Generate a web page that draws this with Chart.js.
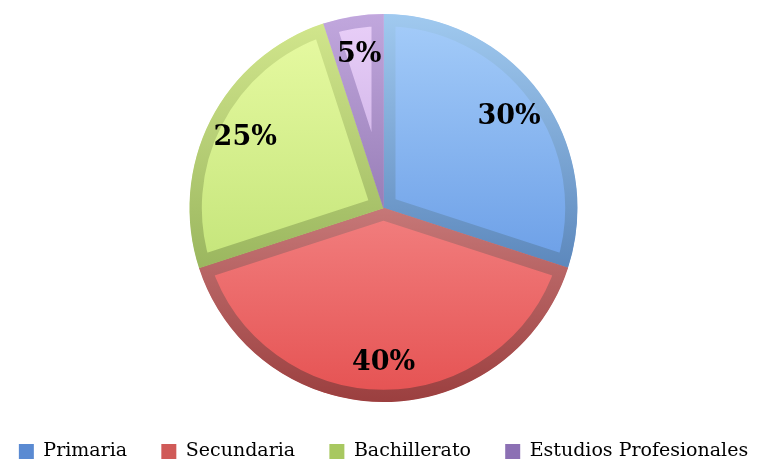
<!DOCTYPE html>
<html><head><meta charset="utf-8">
<script src="https://cdn.jsdelivr.net/npm/chart.js@4/dist/chart.umd.min.js"></script>
<style>html,body{margin:0;padding:0;background:#fff}#wrap{width:760px;height:462px}</style>
</head><body><div id="wrap"><canvas id="c" width="760" height="462"></canvas></div>
<script>
const categories = ['Primaria', 'Secundaria', 'Bachillerato', 'Estudios Profesionales'];
const percentages = [30, 40, 25, 5];
const fillTop = ['#a8cffa', '#ffb0b0', '#eafca6', '#ecd2fa'];
const fillBottom = ['#4a84dc', '#e44e4e', '#b0d862', '#a486cc'];
const bandTop = ['#a4cdf2', '#f4b4b4', '#d6ea90', '#c4aae0'];
const bandBottom = ['#35629f', '#983b3b', '#7a9a44', '#6c528e'];
const legendColors = ['#5a8ad2', '#d05a58', '#a8c860', '#8c70b4'];

function grad(ctx, chart, a, b) {
  const area = chart.chartArea;
  if (!area) return a;
  const g = ctx.createLinearGradient(0, area.top, 0, area.bottom);
  g.addColorStop(0, a); g.addColorStop(1, b);
  return g;
}

const labelPlugin = {
  id: 'pctLabels',
  afterDatasetsDraw(chart) {
    const ctx = chart.ctx;
    const meta = chart.getDatasetMeta(0);
    ctx.save();
    ctx.font = 'bold 27px "DejaVu Serif"';
    ctx.fillStyle = '#000';
    ctx.textAlign = 'center';
    ctx.textBaseline = 'middle';
    meta.data.forEach((arc, i) => {
      const p = arc.getProps(['x', 'y', 'startAngle', 'endAngle', 'outerRadius']);
      const mid = (p.startAngle + p.endAngle) / 2;
      const r = p.outerRadius * 0.8;
      ctx.fillText(percentages[i] + '%', p.x + Math.cos(mid) * r, p.y + Math.sin(mid) * r);
    });
    ctx.restore();
  }
};

// nudges the legend box a little lower inside the canvas
const legendNudge = {
  id: 'legendNudge',
  afterLayout(chart) {
    const lg = chart.legend;
    if (lg) { lg.top += 9; lg.bottom += 9; }
  }
};

const GAP = '\u00a0\u00a0\u00a0\u00a0\u00a0';

new Chart(document.getElementById('c'), {
  type: 'pie',
  data: {
    labels: categories,
    datasets: [{
      data: percentages,
      backgroundColor: c => grad(c.chart.ctx, c.chart, fillTop[c.dataIndex], fillBottom[c.dataIndex]),
      borderColor: c => grad(c.chart.ctx, c.chart, bandTop[c.dataIndex], bandBottom[c.dataIndex]),
      borderWidth: 12,
      borderAlign: 'inner',
      hoverOffset: 0
    }]
  },
  options: {
    responsive: false,
    animation: false,
    radius: 194,
    layout: { padding: { top: 0, bottom: 0, left: 7, right: 0 } },
    plugins: {
      tooltip: { enabled: false },
      legend: {
        position: 'bottom',
        title: { display: true, text: ' ', font: { size: 10 }, padding: { top: 0, bottom: 1 } },
        labels: {
          boxWidth: 15, boxHeight: 15, padding: 4,
          color: '#000',
          font: { family: '"DejaVu Serif"', size: 19 },
          generateLabels(chart) {
            return categories.map((t, i) => ({
              text: i < categories.length - 1 ? t + GAP : t,
              fillStyle: legendColors[i], strokeStyle: legendColors[i], lineWidth: 0,
              fontColor: '#000', index: i
            }));
          }
        }
      }
    }
  },
  plugins: [labelPlugin, legendNudge]
});
</script></body></html>
